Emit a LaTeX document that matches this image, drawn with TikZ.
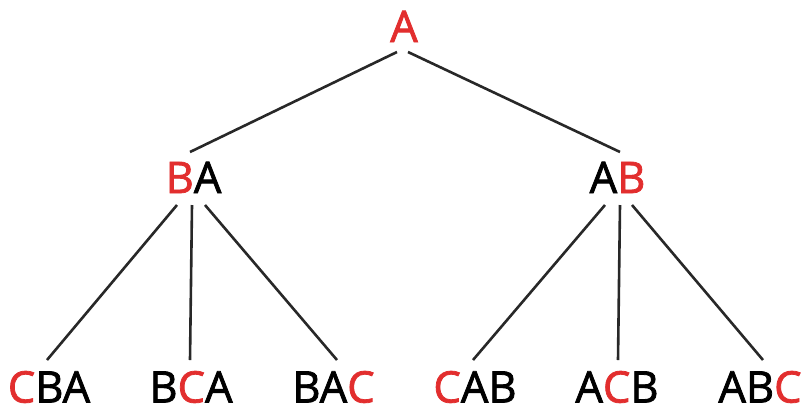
\documentclass[tikz,border=0pt]{standalone}
\usepackage{fontspec}
\setmainfont[FakeBold=1.8]{Open Sans}
\usetikzlibrary{calc}
\definecolor{hi}{RGB}{226,46,46}
\definecolor{edge}{RGB}{40,40,40}
\newcommand{\hl}[1]{\textcolor{hi}{#1}}
\begin{document}
\begin{tikzpicture}[x=1bp,y=-1bp,
  perm/.style={anchor=base,inner sep=0pt,font=\fontsize{43.5bp}{50bp}\selectfont},
  branch/.style={draw=edge,line width=2.6bp}]
\useasboundingbox (0,0) rectangle (803,409);
% root
\node[perm] (a) at (404,42) {\hl{A}};
% second level
\node[perm] (ba) at (193.5,193) {\hl{B}A};
\node[perm] (ab) at (617.5,193) {A\hl{B}};
% leaves
\node[perm] (cba) at (49,402.5) {\hl{C}BA};
\node[perm] (bca) at (191,402.5) {B\hl{C}A};
\node[perm] (bac) at (333.5,402.5) {BA\hl{C}};
\node[perm] (cab) at (475,402.5) {\hl{C}AB};
\node[perm] (acb) at (617,402.5) {A\hl{C}B};
\node[perm] (abc) at (760,402.5) {AB\hl{C}};
% branches
\draw[branch] ($(a.base)+(-7,10)$) -- ($(ba.base)+(-3.5,-41)$);
\draw[branch] ($(a.base)+(4,10)$) -- ($(ab.base)+(2.5,-41)$);
\draw[branch] ($(ba.base)+(-16.5,12)$) -- ($(cba.base)+(-2,-42.5)$);
\draw[branch] ($(ba.base)+(-1.5,12)$) -- ($(bca.base)+(-1,-42.5)$);
\draw[branch] ($(ba.base)+(11.5,12)$) -- ($(bac.base)+(3.5,-42.5)$);
\draw[branch] ($(ab.base)+(-12.5,12)$) -- ($(cab.base)+(-2,-42.5)$);
\draw[branch] ($(ab.base)+(2.5,12)$) -- ($(acb.base)+(1,-42.5)$);
\draw[branch] ($(ab.base)+(14.5,12)$) -- ($(abc.base)+(3,-42.5)$);
\end{tikzpicture}
\end{document}
